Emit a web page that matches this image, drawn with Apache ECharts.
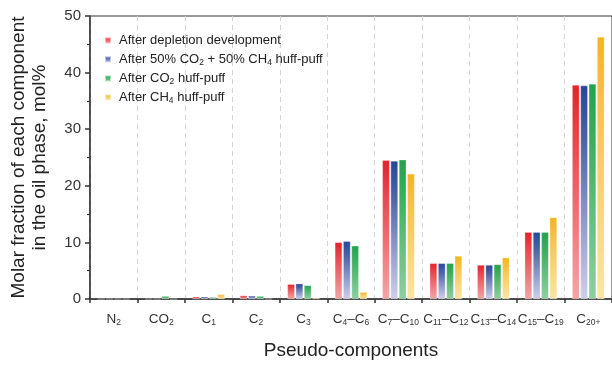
<!DOCTYPE html>
<html>
<head>
<meta charset="utf-8">
<script src="https://cdn.jsdelivr.net/npm/echarts@6/dist/echarts.min.js"></script>
<style>
  html, body { margin: 0; padding: 0; background: #fff; }
  #chart { width: 612px; height: 365px; }
</style>
</head>
<body>
<div id="chart"></div>
<script>
// Pseudo-components of the oil phase
const categories = ['N2', 'CO2', 'C1', 'C2', 'C3', 'C4–C6', 'C7–C10', 'C11–C12', 'C13–C14', 'C15–C19', 'C20+'];

// Molar fraction (mol%) after each stage
const depletion   = [0, 0, 0.4, 0.6, 2.6, 10.0, 24.5, 6.3, 6.0, 11.8, 37.8];
const mixedHuff   = [0, 0, 0.4, 0.55, 2.7, 10.2, 24.4, 6.3, 6.0, 11.8, 37.7];
const co2Huff     = [0, 0.5, 0.3, 0.5, 2.4, 9.4, 24.6, 6.3, 6.1, 11.8, 38.0];
const ch4Huff     = [0, 0, 0.8, 0, 0.2, 1.2, 22.1, 7.6, 7.3, 14.4, 46.3];

const seriesNames = [
  'After depletion development',
  'After 50% CO2 + 50% CH4 huff-puff',
  'After CO2 huff-puff',
  'After CH4 huff-puff'
];

const yTicks = { min: 0, max: 50, interval: 10 };

// Turn digits following a letter into subscript rich-text fragments
function sub(s) {
  return s.replace(/([A-Za-z])(\d+\+?)/g, '$1{s|$2}');
}

function grad(top, mid, bottom) {
  return new echarts.graphic.LinearGradient(0, 0, 0, 1, [
    { offset: 0, color: top },
    { offset: 0.25, color: mid },
    { offset: 1, color: bottom }
  ]);
}

const palette = [
  grad('#e6212a', '#e9454b', '#f3a5a7'),
  grad('#27469a', '#4a62a8', '#cfd0ea'),
  grad('#21a34c', '#3aae5d', '#8fd0a0'),
  grad('#f5b41c', '#f7c24a', '#fde5a6')
];

const values = [depletion, mixedHuff, co2Huff, ch4Huff];
const FONT = 'Liberation Sans, Arial, sans-serif';

const chart = echarts.init(document.getElementById('chart'), null, { renderer: 'canvas' });

chart.setOption({
  animation: false,
  textStyle: { fontFamily: FONT },
  grid: {
    left: 86, top: 16, width: 527, bottom: 61,
    show: true, borderColor: '#333', borderWidth: 1
  },
  legend: {
    orient: 'vertical',
    left: 99, top: 28,
    itemWidth: 6, itemHeight: 6, itemGap: 4,
    icon: 'rect',
    data: seriesNames,
    formatter: n => sub(n),
    textStyle: {
      fontFamily: FONT, fontSize: 13, color: '#222', lineHeight: 15,
      padding: [0, 0, 0, 3],
      rich: { s: { fontSize: 8.5, lineHeight: 8, verticalAlign: 'bottom', color: '#222', fontFamily: FONT } }
    }
  },
  xAxis: {
    type: 'category',
    data: categories,
    name: 'Pseudo-components',
    nameLocation: 'middle',
    nameGap: 42,
    nameTextStyle: { fontSize: 19, color: '#222', fontFamily: FONT },
    axisLine: { lineStyle: { color: '#333', width: 1.5 } },
    axisTick: { show: true, inside: false, length: 4, interval: 0, lineStyle: { color: '#333', width: 1.5 } },
    axisLabel: {
      interval: 0,
      margin: 13,
      fontSize: 13.5, color: '#333', lineHeight: 15,
      formatter: v => sub(v),
      rich: { s: { fontSize: 8.5, lineHeight: 8, verticalAlign: 'bottom', color: '#333', fontFamily: FONT } }
    },
    splitLine: { show: true, interval: 0, lineStyle: { color: '#d4d4d4', type: [5, 4], width: 1 } }
  },
  yAxis: {
    type: 'value',
    min: yTicks.min, max: yTicks.max, interval: yTicks.interval,
    name: 'Molar fraction of each component\nin the oil phase, mol%',
    nameLocation: 'middle',
    nameGap: 40,
    nameTextStyle: { fontSize: 19, color: '#222', lineHeight: 21, fontFamily: FONT },
    axisLine: { show: true, lineStyle: { color: '#333', width: 1.5 } },
    axisTick: { show: true, length: 5, lineStyle: { color: '#333', width: 1.5 } },
    minorTick: { show: true, splitNumber: 2, length: 3, lineStyle: { color: '#333', width: 1.2 } },
    axisLabel: { fontSize: 15, color: '#333', margin: 9 },
    splitLine: { show: false }
  },
  series: values.map((d, i) => ({
    name: seriesNames[i],
    type: 'bar',
    data: d,
    barWidth: 7.3,
    barGap: '14%',
    itemStyle: {
      color: palette[i],
      borderColor: 'rgba(255,255,255,0.55)',
      borderWidth: 0.5
    }
  }))
});
</script>
</body>
</html>
